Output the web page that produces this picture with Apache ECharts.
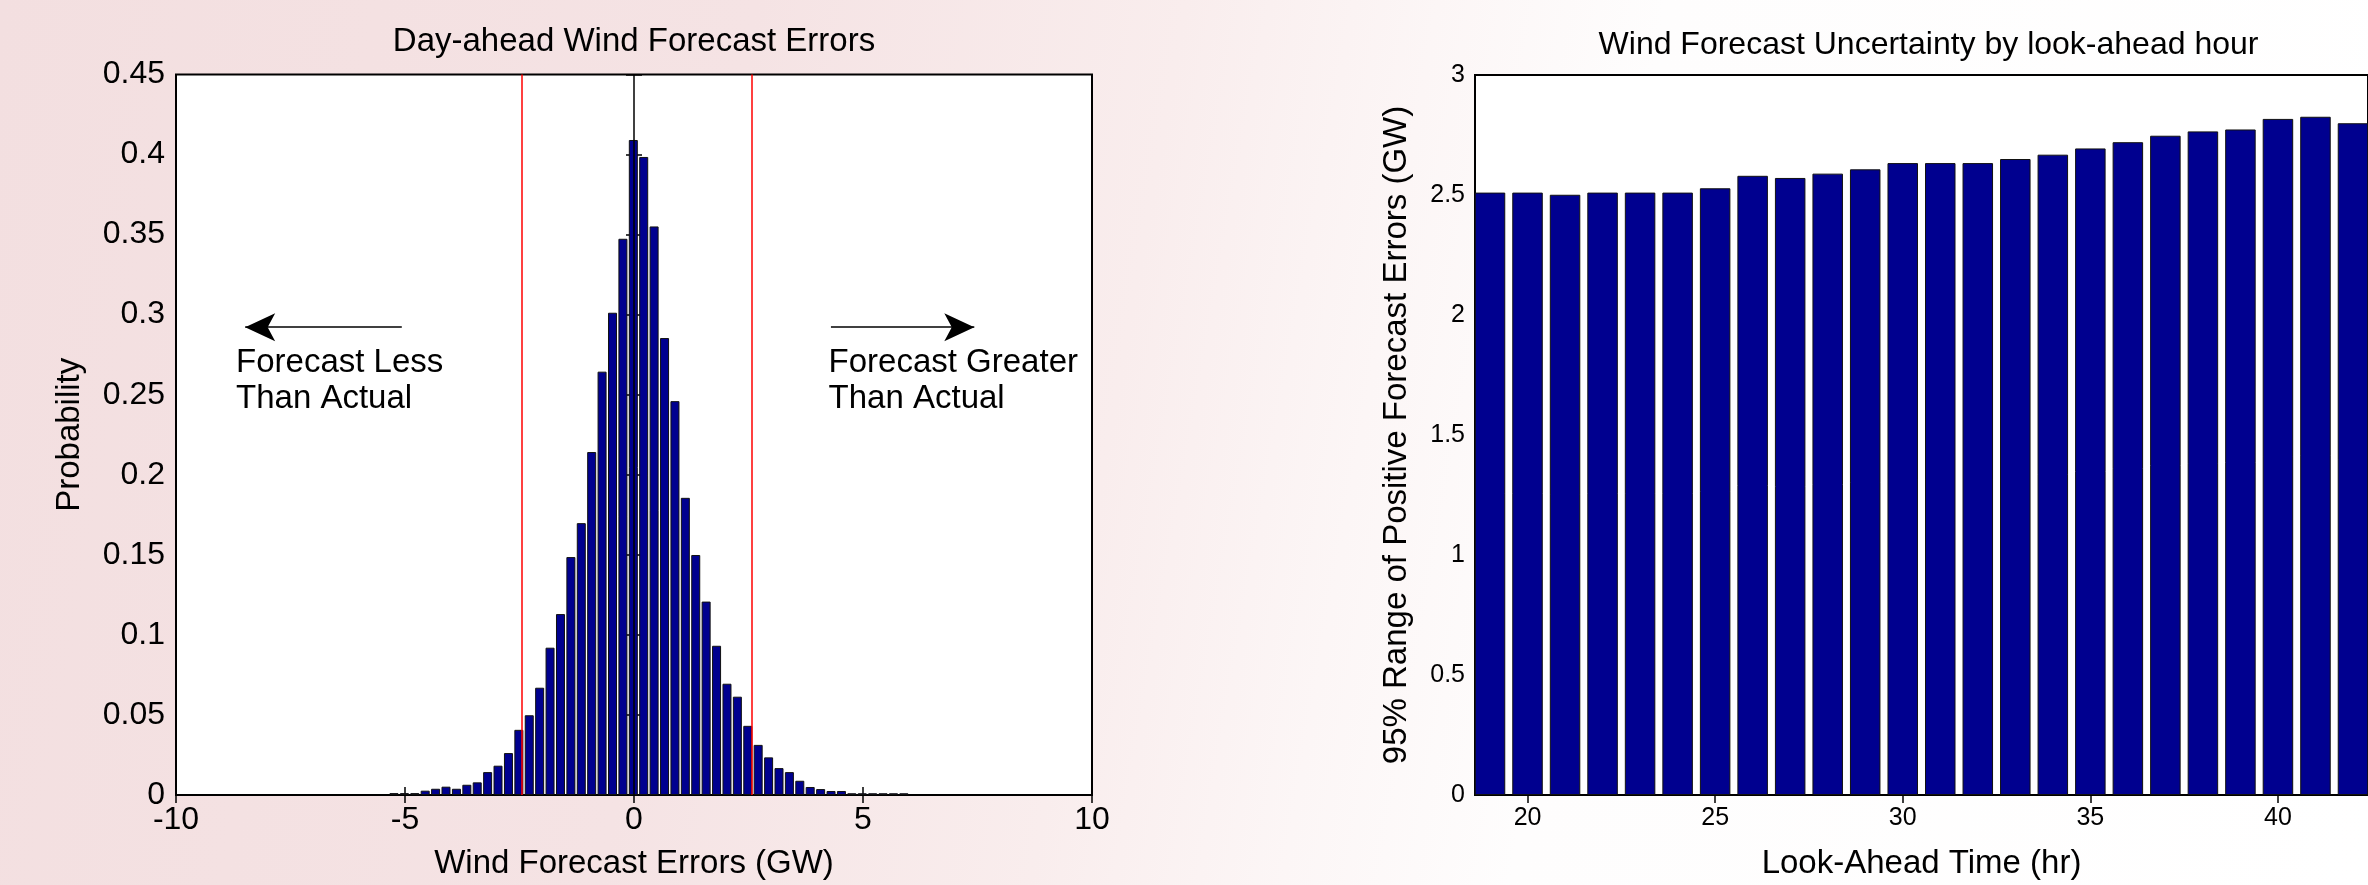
<!DOCTYPE html>
<html>
<head>
<meta charset="utf-8">
<title>Wind Forecast Errors</title>
<script src="https://cdn.jsdelivr.net/npm/echarts@6.0.0/dist/echarts.min.js"></script>
<style>
  html, body { margin: 0; padding: 0; }
  body {
    width: 2368px; height: 885px; overflow: hidden;
    background: linear-gradient(100deg, #f3dfe0 0%, #f5e3e4 30%, #f9eded 47%, #fcf6f6 57%, #fefdfd 66%, #ffffff 100%);
  }
  #main { width: 2368px; height: 885px; }
</style>
</head>
<body>
<div id="main"></div>
<script>
// histogram of day-ahead forecast errors (GW) -> probability
const binCenters = [-5.241, -5.013, -4.786, -4.559, -4.332, -4.105, -3.877, -3.650, -3.423, -3.196,
  -2.969, -2.741, -2.514, -2.287, -2.060, -1.833, -1.605, -1.378, -1.151, -0.924,
  -0.697, -0.469, -0.242, -0.015, 0.212, 0.439, 0.667, 0.894, 1.121, 1.348,
  1.575, 1.803, 2.030, 2.257, 2.484, 2.711, 2.939, 3.166, 3.393, 3.620,
  3.847, 4.075, 4.302, 4.529, 4.756, 4.983, 5.211, 5.438, 5.665, 5.892];
const probability = [0.0012, 0.0012, 0.0012, 0.0027, 0.0039, 0.0052, 0.0039, 0.0064, 0.0079, 0.0143,
  0.0183, 0.0262, 0.0407, 0.0498, 0.0670, 0.0920, 0.1130, 0.1486, 0.1698, 0.2142,
  0.2644, 0.3012, 0.3474, 0.4091, 0.3985, 0.3551, 0.2854, 0.2460, 0.1856, 0.1499,
  0.1208, 0.0932, 0.0695, 0.0614, 0.0432, 0.0313, 0.0235, 0.0168, 0.0143, 0.0089,
  0.0050, 0.0037, 0.0025, 0.0025, 0.0011, 0.0011, 0.0011, 0.0011, 0.0011, 0.0011];
const rangeLines = [-2.46, 2.57];   // red 95% bounds
const zeroLine = 0;

// 95% range of positive errors by look-ahead hour
const leadHours = [19, 20, 21, 22, 23, 24, 25, 26, 27, 28, 29, 30,
  31, 32, 33, 34, 35, 36, 37, 38, 39, 40, 41, 42];
const uncertainty = [2.510, 2.510, 2.501, 2.510, 2.510, 2.510, 2.528, 2.580, 2.571, 2.589, 2.607, 2.633,
  2.633, 2.633, 2.650, 2.668, 2.694, 2.720, 2.747, 2.765, 2.773, 2.817, 2.826, 2.799];
const hourTicks = [20, 25, 30, 35, 40];

// plot boxes in pixels
const L = { left: 176, top: 74.5, right: 1092, bottom: 797 };
const R = { left: 1475, top: 75, right: 2382, bottom: 797 };

const FONT = '"Liberation Sans", Arial, Helvetica, sans-serif';
const NAVY = '#00008f';

const chart = echarts.init(document.getElementById('main'));

function boxAxis(gridIndex, min, max, interval, extra) {
  return Object.assign({
    type: 'value', gridIndex: gridIndex, min: min, max: max, interval: interval,
    axisLine: { show: false },
    axisTick: { show: true, inside: true, length: 8, lineStyle: { color: '#000', width: 1.5 } },
    axisLabel: { show: false },
    splitLine: { show: false }
  }, extra || {});
}

const blackLine = { color: '#000', width: 1.5, type: 'solid' };
const redLine = { color: '#ff0000', width: 1.5, type: 'solid' };

const option = {
  animation: false,
  backgroundColor: 'transparent',
  textStyle: { fontFamily: FONT, color: '#000' },
  graphic: [
    { type: 'text', x: (L.left + L.right) / 2, y: 42,
      style: { text: 'Day-ahead Wind Forecast Errors', font: '33px ' + FONT, fill: '#000', align: 'center', verticalAlign: 'middle' } },
    { type: 'text', x: (R.left + R.right) / 2, y: 45,
      style: { text: 'Wind Forecast Uncertainty by look-ahead hour', font: '32px ' + FONT, fill: '#000', align: 'center', verticalAlign: 'middle' } }
  ],
  grid: [
    { left: L.left, top: L.top, width: L.right - L.left, height: L.bottom - L.top,
      show: true, backgroundColor: '#fff', borderColor: '#000', borderWidth: 2 },
    { left: R.left, top: R.top, width: R.right - R.left, height: R.bottom - R.top,
      show: true, backgroundColor: '#fff', borderColor: '#000', borderWidth: 2 }
  ],
  xAxis: [
    boxAxis(0, -10, 10, 5, {
      position: 'bottom',
      axisLabel: { show: true, fontSize: 32, margin: 9, color: '#000', fontFamily: FONT },
      name: 'Wind Forecast Errors (GW)', nameLocation: 'middle', nameGap: 52,
      nameTextStyle: { fontSize: 33, color: '#000', fontFamily: FONT }
    }),
    boxAxis(0, -10, 10, 5, { position: 'top' }),
    boxAxis(1, 18.6, 42.4, null, {
      position: 'bottom',
      axisTick: { show: true, inside: true, length: 8, customValues: hourTicks, lineStyle: { color: '#000', width: 1.5 } },
      axisLabel: { show: true, fontSize: 25, margin: 11, color: '#000', fontFamily: FONT, customValues: hourTicks },
      name: 'Look-Ahead Time (hr)', nameLocation: 'middle', nameGap: 52,
      nameTextStyle: { fontSize: 33, color: '#000', fontFamily: FONT }
    }),
    boxAxis(1, 18.6, 42.4, null, {
      position: 'top',
      axisTick: { show: true, inside: true, length: 8, customValues: hourTicks, lineStyle: { color: '#000', width: 1.5 } }
    })
  ],
  yAxis: [
    boxAxis(0, 0, 0.45, 0.05, {
      position: 'left',
      axisLabel: { show: true, fontSize: 32, margin: 11, color: '#000', fontFamily: FONT },
      name: 'Probability', nameLocation: 'middle', nameGap: 90,
      nameTextStyle: { fontSize: 33, color: '#000', fontFamily: FONT }
    }),
    boxAxis(0, 0, 0.45, 0.05, { position: 'right' }),
    boxAxis(1, 0, 3, 0.5, {
      position: 'left',
      axisLabel: { show: true, fontSize: 25, margin: 10, color: '#000', fontFamily: FONT },
      name: '95% Range of Positive Forecast Errors (GW)', nameLocation: 'middle', nameGap: 62,
      nameTextStyle: { fontSize: 33, color: '#000', fontFamily: FONT }
    }),
    boxAxis(1, 0, 3, 0.5, { position: 'right' })
  ],
  series: [
    {
      name: 'Probability', type: 'bar', xAxisIndex: 0, yAxisIndex: 0,
      barWidth: 9,
      itemStyle: { color: NAVY, borderColor: '#111', borderWidth: 1 },
      data: binCenters.map((c, i) => [c, probability[i]]),
      markLine: {
        silent: true, animation: false,
        symbol: ['none', 'none'],
        label: { show: false },
        lineStyle: blackLine,
        itemStyle: { color: '#000' },
        data: [
          [{ xAxis: rangeLines[0], yAxis: 0, lineStyle: redLine }, { xAxis: rangeLines[0], yAxis: 0.45 }],
          [{ xAxis: rangeLines[1], yAxis: 0, lineStyle: redLine }, { xAxis: rangeLines[1], yAxis: 0.45 }],
          [{ xAxis: zeroLine, yAxis: 0, lineStyle: blackLine }, { xAxis: zeroLine, yAxis: 0.45 }],
          [
            { coord: [-5.07, 0.2922], symbol: 'none', lineStyle: blackLine },
            { coord: [-8.49, 0.2922], symbol: 'arrow', symbolSize: [21, 30] }
          ],
          [
            { coord: [4.30, 0.2922], symbol: 'none', lineStyle: blackLine },
            { coord: [7.43, 0.2922], symbol: 'arrow', symbolSize: [21, 30] }
          ]
        ]
      },
      markPoint: {
        silent: true, animation: false,
        symbol: 'circle', symbolSize: 0.1,
        itemStyle: { color: 'transparent' },
        label: {
          show: true, position: 'right', distance: 0, align: 'left',
          fontSize: 33, lineHeight: 36, color: '#000', fontFamily: FONT
        },
        data: [
          { coord: [-8.69, 0.2589], label: { formatter: 'Forecast Less\nThan Actual' } },
          { coord: [4.247, 0.2589], label: { formatter: 'Forecast Greater\nThan Actual' } }
        ]
      }
    },
    {
      name: 'Uncertainty', type: 'bar', xAxisIndex: 2, yAxisIndex: 2,
      barWidth: 30.5,
      itemStyle: { color: NAVY, borderColor: '#111', borderWidth: 1 },
      data: leadHours.map((h, i) => [h, uncertainty[i]])
    }
  ]
};

chart.setOption(option);
</script>
</body>
</html>
